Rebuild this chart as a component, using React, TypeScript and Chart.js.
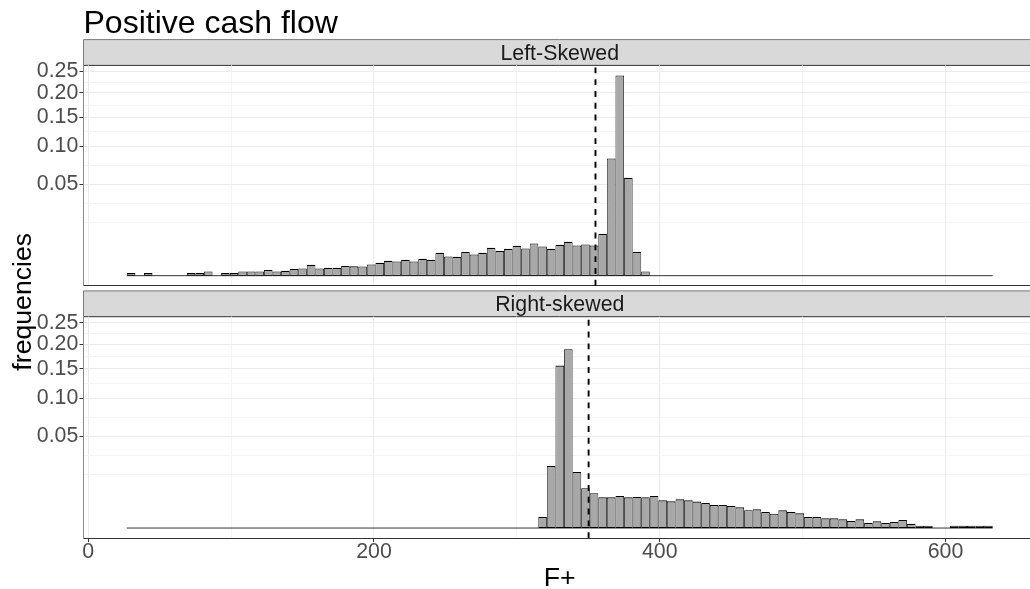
import React, { useEffect, useRef } from "react";
import { Chart, registerables } from "chart.js";

Chart.register(...registerables);

// ---------- data ----------
const BIN_START = 27;
const BIN_WIDTH = 6;

const leftSkewed = [
  0.000044, 0, 0.000044, 0, 0, 0, 0, 0.000044, 0.000044, 0.000111,
  0, 0.000044, 0.000044, 0.000111, 0.000111, 0.000111, 0.000194, 0.000111, 0.00015, 0.000269,
  0.000319, 0.000724, 0.000319, 0.000383, 0.000383, 0.000563, 0.00054, 0.000518, 0.000764, 0.001011,
  0.001346, 0.001224, 0.001532, 0.001224, 0.001729, 0.001532, 0.003165, 0.002229, 0.00216, 0.003361,
  0.002715, 0.003165, 0.004691, 0.00365, 0.004362, 0.005385, 0.00446, 0.006243, 0.005137, 0.004362,
  0.00575, 0.006917, 0.005494, 0.005862, 0.005494, 0.010405, 0.08233, 0.24007, 0.05747, 0.003447,
  0.000111, 0, 0, 0, 0, 0, 0, 0, 0, 0,
  0, 0, 0, 0, 0, 0, 0, 0, 0, 0,
  0, 0, 0, 0, 0, 0, 0, 0, 0, 0,
  0, 0, 0, 0, 0, 0, 0, 0, 0, 0,
  0,
];

const rightSkewed = [
  0, 0, 0, 0, 0, 0, 0, 0, 0, 0,
  0, 0, 0, 0, 0, 0, 0, 0, 0, 0,
  0, 0, 0, 0, 0, 0, 0, 0, 0, 0,
  0, 0, 0, 0, 0, 0, 0, 0, 0, 0,
  0, 0, 0, 0, 0, 0, 0, 0, 0.000724, 0.02278,
  0.15646, 0.18959, 0.018565, 0.009431, 0.007205, 0.00564, 0.00564, 0.006127, 0.00564, 0.00575,
  0.00564, 0.006127, 0.004591, 0.004266, 0.004929, 0.004591, 0.004139, 0.00374, 0.003165, 0.003165,
  0.002896, 0.002564, 0.001896, 0.002092, 0.001532, 0.001224, 0.001875, 0.001532, 0.001293, 0.000724,
  0.000724, 0.000563, 0.000563, 0.000453, 0.000293, 0.000453, 0.00015, 0.000269, 0.00015, 0.000215,
  0.000383, 0.000111, 0.000032, 0.000032, 0, 0, 0.000032, 0.000032, 0.000032, 0.000032,
  0.000032,
];

const panelLabels = ["Left-Skewed", "Right-skewed"];
const panelMeans = [355.0, 350.2];
const yBreaks = [0.05, 0.1, 0.15, 0.2, 0.25];
const xBreaks = [0, 200, 400, 600];
const titleText = "Positive cash flow";
const xTitleText = "F+";
const yTitleText = "frequencies";

// ---------- layout / style ----------
const FONT = "'Liberation Sans', Arial, Helvetica, sans-serif";
const CANVAS_W = 1036;
const CANVAS_H = 589;
const PANEL_LEFT = 83.5;
const PANEL_TOP = [65.4, 316.7];
const PANEL_BOTTOM = [285.7, 538.1];
const STRIP_H = 25.8;

const panels = [leftSkewed, rightSkewed];

// x range (ggplot-like 5% expansion of the binned data range)
const xLo = BIN_START;
const xHi = BIN_START + BIN_WIDTH * leftSkewed.length;
const xMin = xLo - 0.05 * (xHi - xLo);
const xMax = xHi + 0.05 * (xHi - xLo);

// y range in sqrt space, shared across facets
const sMax = Math.sqrt(Math.max(...leftSkewed, ...rightSkewed));
const yMin = -0.05 * sMax;
const yMax = 1.05 * sMax;

function minorBreaks(majors: number[], lo: number, hi: number) {
  const d = majors[1] - majors[0];
  const ext = [majors[0] - d, ...majors, majors[majors.length - 1] + d];
  const out: number[] = [];
  for (let i = 0; i < ext.length - 1; i++) {
    out.push(ext[i], (ext[i] + ext[i + 1]) / 2);
  }
  out.push(ext[ext.length - 1]);
  return out.filter((v) => v >= lo && v <= hi);
}

const ySqrtMajors = yBreaks.map(Math.sqrt);
const yMinors = minorBreaks(ySqrtMajors, yMin, yMax);
const yTickVals = Array.from(new Set([...yMinors, ...ySqrtMajors])).sort((a, b) => a - b);
const xMinors = minorBreaks(xBreaks, xMin, xMax);
const xTickVals = Array.from(new Set([...xMinors, ...xBreaks])).sort((a, b) => a - b);

const isMajorY = (v: number) => ySqrtMajors.some((m) => Math.abs(m - v) < 1e-9);
const isMajorX = (v: number) => xBreaks.some((m) => Math.abs(m - v) < 1e-9);

function panelPlugin(idx: number) {
  const isBottom = idx === 1;
  return {
    id: "panelDeco" + idx,
    beforeDraw(chart: any) {
      const { ctx, chartArea } = chart;
      const top = chartArea.top - STRIP_H;
      const left = chartArea.left;
      const right = chartArea.right;
      ctx.save();
      ctx.fillStyle = "#D9D9D9";
      ctx.fillRect(left, top, right - left, STRIP_H);
      ctx.lineWidth = 1;
      ctx.strokeStyle = "#7a7a7a";
      ctx.beginPath();
      ctx.moveTo(left, top);
      ctx.lineTo(right, top);
      ctx.moveTo(left, top);
      ctx.lineTo(left, chartArea.top);
      ctx.stroke();
      ctx.strokeStyle = "#333333";
      ctx.beginPath();
      ctx.moveTo(left, chartArea.top);
      ctx.lineTo(right, chartArea.top);
      ctx.stroke();
      ctx.fillStyle = "#1A1A1A";
      ctx.font = `21.33px ${FONT}`;
      ctx.textAlign = "center";
      ctx.textBaseline = "alphabetic";
      ctx.fillText(panelLabels[idx], (left + right) / 2, top + STRIP_H / 2 + 7.6);
      ctx.restore();
    },
    afterDatasetsDraw(chart: any) {
      const { ctx, chartArea, scales } = chart;
      const px = scales.x.getPixelForValue(panelMeans[idx]);
      ctx.save();
      ctx.strokeStyle = "#000000";
      ctx.lineWidth = 1.9;
      ctx.setLineDash([5.9, 5.9]);
      ctx.beginPath();
      ctx.moveTo(px, chartArea.bottom);
      ctx.lineTo(px, chartArea.top);
      ctx.stroke();
      ctx.restore();
    },
    afterDraw(chart: any) {
      const { ctx, chartArea } = chart;
      ctx.save();
      ctx.fillStyle = "#000000";
      ctx.textBaseline = "alphabetic";
      if (!isBottom) {
        ctx.font = `32px ${FONT}`;
        ctx.textAlign = "left";
        ctx.fillText(titleText, chartArea.left, 33.3);
      } else {
        ctx.font = `26.67px ${FONT}`;
        ctx.textAlign = "center";
        ctx.fillText(xTitleText, (chartArea.left + chartArea.right) / 2, 586);
        ctx.translate(30.5, (PANEL_TOP[0] + PANEL_BOTTOM[1]) / 2);
        ctx.rotate(-Math.PI / 2);
        ctx.fillText(yTitleText, 0, 0);
      }
      ctx.restore();
    },
  };
}

function buildConfig(idx: number): any {
  const values = panels[idx];
  const isBottom = idx === 1;
  const points = values.map((v, i) => ({
    x: BIN_START + BIN_WIDTH * (i + 0.5),
    y: Math.sqrt(v),
  }));
  return {
    type: "bar",
    data: {
      datasets: [
        {
          type: "bar",
          data: points,
          backgroundColor: "#A8A8A8",
          borderColor: "#000000",
          borderWidth: { top: 1.2, bottom: 1, left: 0.8, right: 0.8 },
          borderSkipped: false,
          barPercentage: 1,
          categoryPercentage: 1,
          inflateAmount: 0,
          order: 0,
        },
        {
          type: "line",
          data: [
            { x: xLo, y: 0 },
            { x: xHi, y: 0 },
          ],
          borderColor: "#333333",
          borderWidth: 1,
          pointRadius: 0,
          order: 1,
        },
      ],
    },
    options: {
      responsive: false,
      animation: false,
      devicePixelRatio: 1,
      events: [],
      layout: {
        padding: {
          top: PANEL_TOP[idx],
          bottom: isBottom ? 0 : CANVAS_H - PANEL_BOTTOM[idx],
          left: 0,
          right: 0,
        },
      },
      plugins: {
        legend: { display: false },
        tooltip: { enabled: false },
        title: { display: false },
      },
      scales: {
        x: {
          type: "linear",
          min: xMin,
          max: xMax,
          offset: false,
          afterBuildTicks: (s: any) => {
            s.ticks = xTickVals.map((v) => ({ value: v }));
          },
          afterFit: (s: any) => {
            s.height = isBottom ? CANVAS_H - PANEL_BOTTOM[1] : 0;
          },
          ticks: {
            display: isBottom,
            autoSkip: false,
            maxRotation: 0,
            minRotation: 0,
            padding: -1,
            color: "#4D4D4D",
            font: { family: FONT, size: 21.33, lineHeight: 1 },
            callback: (v: number) => (isMajorX(v) ? String(v) : ""),
          },
          grid: {
            offset: false,
            color: (c: any) => (c.tick && isMajorX(c.tick.value) ? "#EBEBEB" : "#F3F3F3"),
            lineWidth: 1,
            drawTicks: isBottom,
            tickLength: 4,
            tickWidth: 1,
            tickColor: (c: any) => (c.tick && isMajorX(c.tick.value) ? "#333333" : "rgba(0,0,0,0)"),
          },
          border: { display: true, color: "#333333", width: 1 },
        },
        y: {
          type: "linear",
          min: yMin,
          max: yMax,
          afterBuildTicks: (s: any) => {
            s.ticks = yTickVals.map((v) => ({ value: v }));
          },
          afterFit: (s: any) => {
            s.width = PANEL_LEFT;
          },
          ticks: {
            autoSkip: false,
            padding: 1.2,
            color: "#4D4D4D",
            font: { family: FONT, size: 21.33, lineHeight: 1 },
            callback: (v: number) => (isMajorY(v) ? (v * v).toFixed(2) : ""),
          },
          grid: {
            offset: false,
            color: (c: any) => (c.tick && isMajorY(c.tick.value) ? "#EBEBEB" : "#F3F3F3"),
            lineWidth: 1,
            drawTicks: true,
            tickLength: 4,
            tickWidth: 1,
            tickColor: (c: any) => (c.tick && isMajorY(c.tick.value) ? "#333333" : "rgba(0,0,0,0)"),
          },
          border: { display: true, color: "#8A8A8A", width: 1 },
        },
      },
    },
    plugins: [panelPlugin(idx)],
  };
}

export default function App() {
  const topRef = useRef<HTMLCanvasElement>(null);
  const botRef = useRef<HTMLCanvasElement>(null);

  useEffect(() => {
    const a = new Chart(topRef.current as HTMLCanvasElement, buildConfig(0));
    const b = new Chart(botRef.current as HTMLCanvasElement, buildConfig(1));
    return () => {
      a.destroy();
      b.destroy();
    };
  }, []);

  return (
    <div
      style={{
        position: "absolute",
        left: 0,
        top: 0,
        width: 1030,
        height: 589,
        overflow: "hidden",
        background: "#ffffff",
      }}
    >
      <canvas
        ref={botRef}
        width={CANVAS_W}
        height={CANVAS_H}
        style={{ position: "absolute", left: 0, top: 0 }}
      />
      <canvas
        ref={topRef}
        width={CANVAS_W}
        height={CANVAS_H}
        style={{ position: "absolute", left: 0, top: 0 }}
      />
    </div>
  );
}
